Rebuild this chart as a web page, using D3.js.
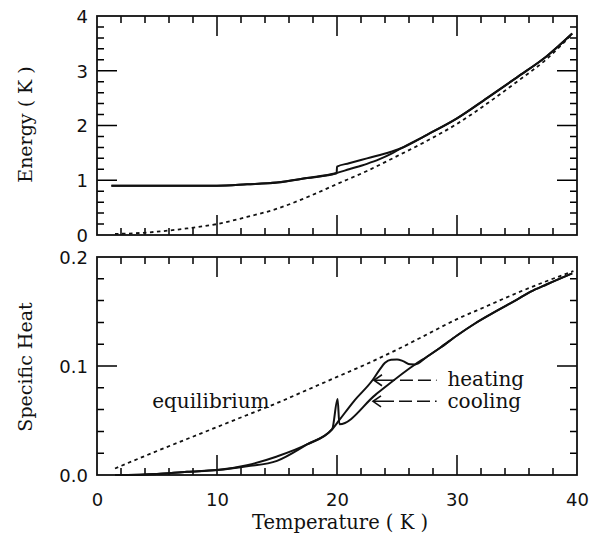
<!DOCTYPE html>
<html>
<head>
<meta charset="utf-8">
<script src="https://cdn.jsdelivr.net/npm/d3@7"></script>
<style>
  body { margin: 0; background: #fff; }
  svg { display: block; }
  .tick-label { font-family: "DejaVu Sans", sans-serif; font-size: 18px; fill: #111; }
  .title { font-family: "DejaVu Serif", serif; font-size: 19px; fill: #111; }
  .note { font-family: "DejaVu Serif", serif; font-size: 20px; fill: #111; }
</style>
</head>
<body>
<svg id="chart"></svg>
<script>
// tick labels
const tempTicks = [0, 10, 20, 30, 40];
const energyTicks = [0, 1, 2, 3, 4];
const heatTicks = [0, 0.1, 0.2];

// energy curves [T, E]
const energyEquilibrium = [[1.5,0.02],[3,0.03],[5,0.06],[7.5,0.12],[10,0.2],[12.5,0.33],[15,0.48],[17.5,0.69],
  [20,0.93],[22.5,1.17],[25,1.44],[27.5,1.72],[30,2.03],[32.5,2.4],[35,2.8],[37.5,3.22],[39.6,3.67]];
const energyHeating = [[1.2,0.9],[5,0.9],[10,0.9],[12.5,0.925],[15,0.958],[17.5,1.04],[19.9,1.127],[21,1.2],
  [22.5,1.3],[23.5,1.38],[24.5,1.48],[25.3,1.58],[27.5,1.83],[30,2.13],[32.5,2.5],[35,2.88],[37.5,3.27],[39.6,3.68]];
const energyCooling = [[39.6,3.68],[37.5,3.27],[35,2.88],[32.5,2.5],[30,2.13],[27.5,1.83],[25.3,1.58],[24.5,1.52],
  [22.5,1.4],[21,1.31],[20,1.248],[19.97,1.127],[17.5,1.04],[15,0.958],[12.5,0.925],[10,0.9],[5,0.9],[1.2,0.9]];

// specific heat curves [T, C]
const heatEquilibrium = [[1.5,0.006],[5,0.022],[7.5,0.033],[10,0.044],[12.5,0.055],[15,0.066],[17.5,0.078],
  [20,0.09],[22.5,0.102],[25,0.115],[27.5,0.129],[30,0.143],[32.5,0.155],[35,0.167],[37.5,0.178],[39.7,0.187]];
const heatHeating = [[1.5,0],[5,0.001],[7.5,0.003],[10,0.0045],[12.5,0.009],[15,0.017],[17.5,0.028],[19.6,0.042],
  [20.2,0.0505],[21.4,0.0676],[23,0.0876],[23.6,0.0974],[24,0.1029],[24.5,0.1058],[25,0.106],[25.5,0.1045],
  [26.1,0.1015],[26.5,0.1014],[27.5,0.1085],[28.6,0.1167],[30,0.128],[31.5,0.139],[33.3,0.1505],[35,0.161],
  [36.1,0.168],[37.5,0.175],[39.6,0.185]];
const heatCooling = [[39.6,0.185],[37.5,0.175],[36.1,0.168],[35,0.161],[33.3,0.1505],[31.5,0.139],[30,0.128],
  [28.6,0.1167],[27.5,0.1085],[26.5,0.1014],[23.2,0.0735],[20.2,0.0465],[20.05,0.0697],[19.6,0.042],[17.5,0.028],
  [15,0.013],[12.5,0.008],[10,0.0045],[7.5,0.003],[5,0.001],[1.5,0]];

// annotation anchors [T, C]
const notes = [
  {text: 'equilibrium', at: [4.6, 0.0617]},
  {text: 'heating', at: [29.2, 0.0814], arrowFrom: [28.3, 0.0869], arrowTo: [23.08, 0.0869]},
  {text: 'cooling', at: [29.2, 0.0615], arrowFrom: [28.3, 0.0676], arrowTo: [23.0, 0.0676]}
];

const W = 598, H = 533;
const left = 97, right = 577;
const svg = d3.select('#chart').attr('width', W).attr('height', H);

const x = d3.scaleLinear().domain([0, 40]).range([left, right]);
const yE = d3.scaleLinear().domain([0, 4]).range([235, 16]);
const yC = d3.scaleLinear().domain([0, 0.2]).range([475, 257]);

const minorX = d3.range(2, 39, 2);
const majorX = [10, 20, 30];

// boxed panel with inward ticks on all four sides, drawn as one path
function frame(y, minorY, majorY) {
  const [y0, y1] = y.range();
  const len = (d, major) => major.some(m => Math.abs(m - d) < 1e-9) ? 20 : 7;
  const p = d3.path();
  minorX.forEach(d => {
    const px = x(d), l = len(d, majorX);
    p.moveTo(px, y0); p.lineTo(px, y0 - l);
    p.moveTo(px, y1); p.lineTo(px, y1 + l);
  });
  minorY.forEach(d => {
    const py = y(d), l = len(d, majorY);
    p.moveTo(left, py); p.lineTo(left + l, py);
    p.moveTo(right, py); p.lineTo(right - l, py);
  });
  svg.append('path')
    .attr('d', p.toString())
    .attr('fill', 'none').attr('stroke', '#000').attr('stroke-width', 1.5);
  svg.append('rect')
    .attr('x', left).attr('y', y1)
    .attr('width', right - left).attr('height', y0 - y1)
    .attr('fill', 'none').attr('stroke', '#111').attr('stroke-width', 1.8);
}

function yLabels(y, vals, fmt) {
  svg.append('g')
    .attr('transform', `translate(${left - 9},0)`)
    .call(d3.axisLeft(y).tickValues(vals).tickSize(0).tickPadding(0).tickFormat(fmt))
    .call(s => s.select('.domain').remove())
    .selectAll('text').attr('class', 'tick-label').attr('dy', '0.36em');
}

function curve(y, data, dashed) {
  const line = d3.line()
    .x(d => x(d[0])).y(d => y(d[1]))
    .curve(d3.curveMonotoneX);
  svg.append('path')
    .datum(data)
    .attr('d', line)
    .attr('fill', 'none')
    .attr('stroke', '#111')
    .attr('stroke-width', dashed ? 1.8 : 2)
    .attr('stroke-dasharray', dashed ? '3.5,3.5' : null)
    .attr('stroke-linejoin', 'round');
}

// top panel: energy
frame(yE, d3.range(0.2, 3.9, 0.2), [1, 2, 3]);
yLabels(yE, energyTicks, d3.format('d'));
curve(yE, energyEquilibrium, true);
curve(yE, energyHeating, false);
curve(yE, energyCooling, false);

// bottom panel: specific heat
frame(yC, d3.range(0.02, 0.19, 0.02), [0.1]);
yLabels(yC, heatTicks, d3.format('.1f'));
curve(yC, heatEquilibrium, true);
curve(yC, heatHeating, false);
curve(yC, heatCooling, false);

svg.append('g')
  .attr('transform', `translate(0,${475 + 18})`)
  .call(d3.axisBottom(x).tickValues(tempTicks).tickSize(0).tickPadding(0).tickFormat(d3.format('d')))
  .call(s => s.select('.domain').remove())
  .selectAll('text').attr('class', 'tick-label').attr('dy', '0.72em');

// annotations
notes.forEach(n => {
  svg.append('text').attr('class', 'note')
    .attr('x', x(n.at[0])).attr('y', yC(n.at[1]))
    .text(n.text);
  if (n.arrowFrom) {
    const tx = x(n.arrowTo[0]), ty = yC(n.arrowTo[1]);
    svg.append('line')
      .attr('x1', tx).attr('y1', ty)
      .attr('x2', x(n.arrowFrom[0])).attr('y2', yC(n.arrowFrom[1]))
      .attr('stroke', '#111').attr('stroke-width', 1.6)
      .attr('stroke-dasharray', '21,5,13,5,13,5');
    svg.append('path')
      .attr('d', `M${tx + 8},${ty - 5.5}L${tx},${ty}L${tx + 8},${ty + 5.5}`)
      .attr('fill', 'none').attr('stroke', '#111').attr('stroke-width', 1.6);
  }
});

// axis titles
svg.append('text').attr('class', 'title')
  .attr('transform', `translate(32,${(16 + 235) / 2 - 1}) rotate(-90)`)
  .attr('text-anchor', 'middle')
  .text('Energy ( K )');
svg.append('text').attr('class', 'title')
  .attr('transform', `translate(32,${(257 + 475) / 2 + 1}) rotate(-90)`)
  .attr('text-anchor', 'middle')
  .text('Specific Heat');
svg.append('text').attr('class', 'title')
  .attr('x', 340).attr('y', 529)
  .attr('text-anchor', 'middle')
  .style('font-size', '19.5px')
  .text('Temperature ( K )');
</script>
</body>
</html>
